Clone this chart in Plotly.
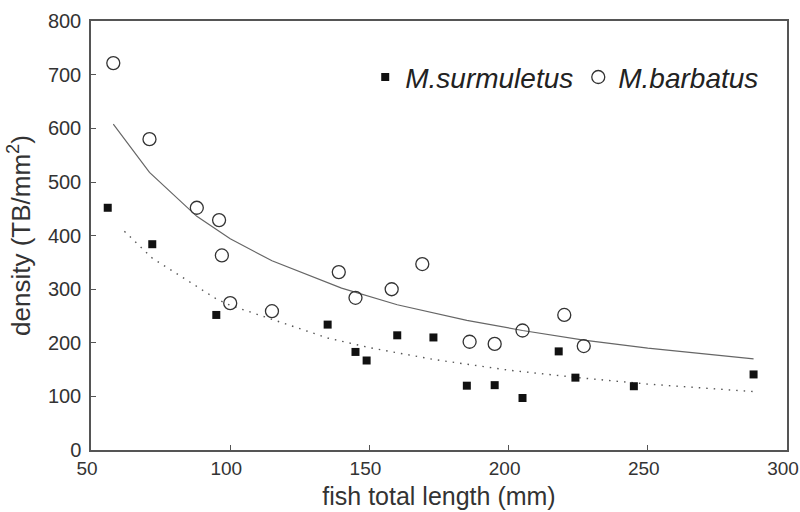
import plotly.graph_objects as go

# M. surmuletus (filled squares)
surm_x = [56, 72, 95, 135, 145, 149, 160, 173, 185, 195, 205, 218, 224, 245, 288]
surm_y = [452, 384, 252, 234, 183, 167, 214, 210, 120, 121, 97, 184, 135, 119, 141]

# M. barbatus (open circles)
barb_x = [58, 71, 88, 96, 97, 100, 115, 139, 145, 158, 169, 186, 195, 205, 220, 227]
barb_y = [722, 580, 452, 429, 363, 274, 259, 332, 284, 300, 347, 202, 198, 223, 252, 194]

# fitted curves
fit_barb_x = [58, 71, 88, 100, 115, 140, 160, 185, 205, 227, 250, 288]
fit_barb_y = [608, 518, 436, 394, 353, 302, 271, 242, 223, 205, 190, 170]

fit_surm_x = [62, 72, 95, 100, 135, 150, 173, 200, 225, 250, 288]
fit_surm_y = [408, 358, 282, 270, 209, 191, 169, 149, 135, 123, 109]

x_ticks = [50, 100, 150, 200, 250, 300]
y_ticks = [0, 100, 200, 300, 400, 500, 600, 700, 800]

FONT = "Liberation Sans, Arial, sans-serif"

fig = go.Figure()
fig.add_trace(go.Scatter(x=fit_barb_x, y=fit_barb_y, mode="lines",
                         line=dict(color="#666666", width=1.2), showlegend=False,
                         hoverinfo="skip"))
fig.add_trace(go.Scatter(x=fit_surm_x, y=fit_surm_y, mode="lines",
                         line=dict(color="#555555", width=1.4, dash="1.5px,6px"),
                         showlegend=False, hoverinfo="skip"))
fig.add_trace(go.Scatter(x=surm_x, y=surm_y, mode="markers", name="M.surmuletus",
                         marker=dict(symbol="square", size=8, color="#111111")))
fig.add_trace(go.Scatter(x=barb_x, y=barb_y, mode="markers", name="M.barbatus",
                         marker=dict(symbol="circle-open", size=13, color="#333333",
                                     line=dict(width=1.3))))

axis_common = dict(showline=True, linecolor="#555555", linewidth=1.5, mirror=True,
                   ticks="inside", ticklen=5, tickcolor="#555555", showgrid=False,
                   zeroline=False, automargin=False, ticklabeloverflow="allow")

fig.update_layout(
    width=800, height=512,
    margin=dict(l=91, r=13, t=21, b=62),
    paper_bgcolor="white", plot_bgcolor="white",
    xaxis=dict(range=[49.99, 300.01], tickvals=x_ticks, ticklabelshift=-4,
               tickfont=dict(family=FONT, size=19, color="#333333"),
               title=dict(text="fish total length (mm)", font=dict(family=FONT, size=25, color="#333333"),
                          standoff=10),
               **axis_common),
    yaxis=dict(range=[0, 800.5], tickvals=y_ticks, ticklabelstandoff=4,
               tickfont=dict(family=FONT, size=20, color="#333333"),
               title=dict(text="density (TB/mm<sup>2</sup>)", font=dict(family=FONT, size=26, color="#333333"),
                          standoff=10),
               **axis_common),
    legend=dict(orientation="h", x=0.394, y=0.927, xanchor="left", yanchor="top",
                font=dict(family=FONT, size=28, color="#222222", style="italic"),
                bgcolor="rgba(0,0,0,0)", itemwidth=30),
)

fig.write_html("out.html", config={"displayModeBar": False},
               post_script="document.body.style.margin='0';document.body.style.overflow='hidden';")
